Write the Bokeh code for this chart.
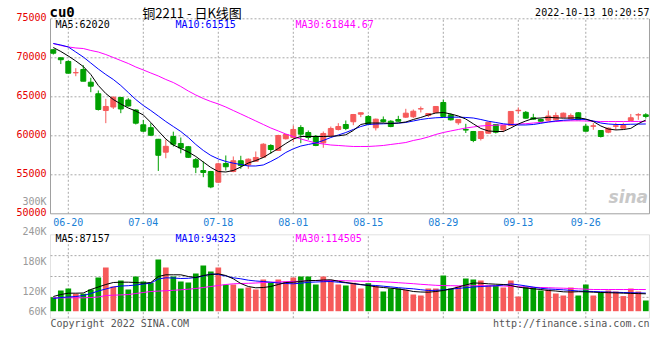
from bokeh.plotting import figure
from bokeh.models import Range1d, BoxAnnotation, Label, LabelSet, ColumnDataSource
from bokeh.core.properties import value
from bokeh.embed import file_html
from bokeh.resources import INLINE

# ---------------- data ----------------
DATES = ["06-16", "06-17", "06-20", "06-21", "06-22", "06-23", "06-24", "06-27", "06-28", "06-29",
         "06-30", "07-01", "07-04", "07-05", "07-06", "07-07", "07-08", "07-11", "07-12", "07-13",
         "07-14", "07-15", "07-18", "07-19", "07-20", "07-21", "07-22", "07-25", "07-26", "07-27",
         "07-28", "07-29", "08-01", "08-02", "08-03", "08-04", "08-05", "08-08", "08-09", "08-10",
         "08-11", "08-12", "08-15", "08-16", "08-17", "08-18", "08-19", "08-22", "08-23", "08-24",
         "08-25", "08-26", "08-29", "08-30", "08-31", "09-01", "09-02", "09-05", "09-06", "09-07",
         "09-08", "09-09", "09-13", "09-14", "09-15", "09-16", "09-19", "09-20", "09-21", "09-22",
         "09-23", "09-26", "09-27", "09-28", "09-29", "09-30", "10-10", "10-11", "10-12", "10-13"]

OPEN = [71030, 70000, 69530, 68080, 68500, 66870, 65390, 63240, 63690, 64910,
        64590, 63310, 61410, 61040, 59550, 57900, 59910, 59010, 58600, 56940,
        55550, 55420, 54050, 56450, 55420, 56800, 56280, 56740, 57260, 58760,
        58120, 59620, 59780, 61060, 60420, 59950, 59100, 60000, 60810, 61450,
        61800, 62770, 62480, 61030, 62050, 61870, 62090, 62390, 62440, 63440,
        62600, 62990, 64270, 62690, 61670, 60810, 60550, 59650, 60330, 61450,
        60770, 61320, 63210, 63010, 62310, 62090, 62000, 62050, 62390, 62180,
        62950, 61230, 61220, 60680, 60460, 61220, 60980, 61960, 62670, 62690]
HIGH = [71150, 70050, 69650, 68670, 69050, 67440, 65810, 64740, 65040, 65000,
        64820, 63410, 62030, 61620, 59600, 59530, 60530, 59780, 58700, 57150,
        56710, 55500, 56550, 57480, 57350, 57440, 57100, 57990, 59050, 58920,
        60130, 60200, 61320, 61360, 60680, 60100, 60550, 61190, 61620, 61960,
        62800, 62990, 62640, 62200, 62480, 62000, 62560, 63460, 63370, 63760,
        62920, 63820, 64650, 62860, 62150, 61540, 60620, 60620, 61770, 61510,
        61390, 63150, 63630, 63180, 62820, 62220, 63240, 62990, 62990, 62860,
        63050, 61540, 61640, 60740, 61060, 61670, 61670, 62800, 62900, 62900]
LOW = [70420, 69200, 68000, 67640, 67000, 65590, 63240, 61620, 63440, 62900,
       63760, 61450, 60500, 60000, 55490, 57120, 58630, 57760, 57150, 55210,
       54690, 53280, 53980, 55550, 55330, 55770, 55770, 56700, 57200, 57690,
       58100, 59530, 59180, 59050, 59490, 58670, 58460, 59950, 60680, 60720,
       61360, 62390, 61400, 60680, 61700, 61100, 61800, 62300, 62280, 62990,
       62410, 62920, 62410, 61960, 61410, 60360, 59180, 59400, 60300, 60300,
       60460, 61280, 62820, 62220, 62030, 61830, 61900, 61960, 62350, 62090,
       62030, 60550, 60770, 59780, 60330, 60740, 60940, 61900, 62050, 62220]
CLOSE = [70590, 69750, 68030, 68100, 67000, 66360, 63370, 63760, 64950, 63440,
         63820, 61620, 60590, 60070, 57500, 58650, 58920, 58440, 57240, 55980,
         55300, 53440, 56410, 56030, 56800, 56190, 57000, 57220, 58920, 58240,
         60040, 60170, 60810, 60210, 59780, 58760, 60300, 60940, 61190, 60940,
         62730, 62950, 61450, 62130, 61830, 61190, 61870, 62900, 63150, 63470,
         62860, 63760, 62480, 62050, 62090, 60730, 59400, 60550, 61740, 60460,
         61320, 63120, 63270, 62260, 62130, 61870, 62540, 62600, 62900, 62600,
         62050, 60590, 61280, 59910, 60980, 61280, 61320, 62310, 62710, 62480]

MA5 = [71320, 70810, 70230, 69590, 68880, 67860, 66450, 65420, 64650, 64080,
       63560, 63180, 62670, 61710, 60620, 59590, 58820, 58370, 57920, 57350,
       56640, 55940, 55420, 55360, 55550, 56000, 56510, 56830, 57220, 57800,
       58370, 59010, 59590, 59910, 59910, 59910, 59910, 59940, 60000, 60130,
       60680, 61450, 61640, 61640, 61640, 61580, 61640, 61770, 62090, 62350,
       62670, 62920, 62990, 62800, 62540, 62150, 61540, 60940, 60620, 60550,
       60550, 61000, 61510, 61900, 62220, 62280, 62370, 62310, 62260, 62280,
       62310, 62150, 61830, 61260, 60870, 60750, 60800, 60950, 61550, 62020]
MA10 = [71830, 71640, 71390, 70740, 70100, 69330, 68560, 67860, 67220, 66450,
        65550, 64650, 63890, 63240, 62540, 61830, 61190, 60550, 59780, 58890,
        58120, 57480, 57030, 56710, 56490, 56320, 56130, 56130, 56260, 56710,
        57220, 57860, 58330, 58690, 58890, 59080, 59400, 59780, 60100, 60420,
        60810, 61190, 61450, 61510, 61540, 61580, 61620, 61710, 61900, 62090,
        62220, 62310, 62350, 62390, 62390, 62350, 62280, 62090, 61870, 61710,
        61540, 61450, 61390, 61390, 61450, 61600, 61770, 61900, 61990, 62050,
        62120, 62090, 61900, 61640, 61510, 61450, 61450, 61480, 61500, 61515]
MA30 = [71830, 71580, 71390, 71260, 71190, 70940, 70740, 70420, 70040, 69650,
        69270, 68820, 68440, 68050, 67670, 67220, 66830, 66320, 65740, 65230,
        64780, 64400, 64080, 63690, 63240, 62800, 62350, 61900, 61450, 61000,
        60620, 60230, 59910, 59590, 59330, 59080, 58950, 58820, 58760, 58690,
        58630, 58630, 58630, 58690, 58760, 58890, 59010, 59140, 59400, 59590,
        59850, 60170, 60420, 60620, 60810, 61000, 61130, 61260, 61320, 61360,
        61410, 61450, 61510, 61550, 61640, 61710, 61770, 61830, 61900, 61920,
        61920, 61900, 61860, 61830, 61830, 61830, 61830, 61840, 61840, 61845]

VOLUME = [108000, 121400, 125400, 114800, 114800, 123400, 147400, 167400, 129400, 141400,
          123400, 149400, 139400, 136800, 183400, 167400, 149400, 139400, 137400, 155400,
          171400, 159400, 167400, 132800, 133400, 125400, 127400, 123400, 143400, 137400,
          143400, 139400, 147400, 149400, 149400, 133400, 149400, 142800, 133400, 131400,
          136800, 125400, 136000, 130800, 119400, 125400, 125400, 122800, 113400, 111400,
          125400, 125400, 151400, 125400, 129400, 145400, 143400, 141400, 131400, 131400,
          127400, 141400, 109400, 129400, 128000, 121400, 123400, 115400, 111400, 127400,
          111400, 133400, 111400, 117400, 121400, 119400, 110200, 125400, 119400, 101400]
VMA5 = [109400, 113400, 116000, 116000, 116400, 123400, 128400, 133400, 137400, 138000,
        138000, 137400, 136000, 137400, 149400, 152800, 152800, 152800, 149400, 147400,
        151400, 153400, 154800, 151400, 144800, 135400, 129400, 126800, 127400, 129400,
        133400, 137400, 138000, 139400, 141400, 141400, 142400, 142800, 140000, 137400,
        135400, 133400, 131400, 128800, 127400, 126000, 124400, 122400, 119400, 118400,
        118000, 119400, 121400, 124400, 128400, 132400, 136400, 136000, 134800, 134000,
        133400, 131400, 128000, 126400, 124800, 123400, 121400, 120400, 118800, 118400,
        119000, 118800, 118000, 117400, 117000, 116600, 116000, 115600, 115200, 114800]
VMA10 = [105400, 107400, 108400, 109400, 111400, 115400, 120400, 124400, 128400, 130400,
         131000, 132400, 134400, 136000, 144400, 146800, 146400, 145400, 145800, 147400,
         150400, 154400, 153400, 150400, 146800, 144800, 142000, 140400, 139400, 138000,
         136400, 135400, 134800, 136000, 137800, 138400, 139000, 139400, 138000, 136800,
         135000, 133000, 132000, 131400, 130000, 128600, 127000, 125800, 124800, 123000,
         121400, 121800, 122600, 124200, 125600, 127000, 128400, 129400, 130200, 130800,
         132400, 134600, 132800, 130600, 128200, 125800, 124400, 123600, 122800, 121600,
         120400, 119800, 119400, 118800, 118200, 117800, 117400, 117000, 116600, 116200]
VMA30 = [106800, 106800, 106800, 106800, 106800, 107400, 108400, 111400, 112000, 112600,
         113200, 115400, 117400, 119400, 120200, 121000, 121800, 122800, 124000, 125400,
         127400, 129400, 131400, 133400, 134800, 135400, 135800, 136400, 137400, 138000,
         138400, 139000, 139400, 140000, 140800, 141400, 141400, 141400, 141200, 140800,
         140400, 140000, 139800, 139400, 138800, 138000, 137000, 136000, 135000, 133800,
         132800, 131800, 131200, 131000, 130800, 130800, 130800, 130800, 130800, 130800,
         130400, 129800, 129200, 128400, 127800, 127400, 127000, 126400, 126000, 125400,
         124800, 124000, 123400, 123400, 123400, 123400, 123400, 123400, 123400, 123400]

TICK_DATES = ["06-20", "07-04", "07-18", "08-01", "08-15", "08-29", "09-13", "09-26"]
PRICE_TICKS = [50000, 55000, 60000, 65000, 70000, 75000]
VOL_TICKS = [300000, 240000, 180000, 120000, 60000]
VOL_TICK_LABELS = ["300K", "240K", "180K", "120K", "60K"]

TITLE_CODE = "cu0"
TITLE_TEXT = "铜2211 - 日K线图"
TIMESTAMP = "2022-10-13 10:20:57"
PRICE_LEGEND = ["MA5:62020", "MA10:61515", "MA30:61844.67"]
VOL_LEGEND = ["MA5:87157", "MA10:94323", "MA30:114505"]
COPYRIGHT = "Copyright 2022 SINA.COM"
URL = "http://finance.sina.com.cn"

# ---------------- layout / style ----------------
UP, DOWN = "#f65a5a", "#00a000"
GRID = "#a8a8a8"
BORDER = "#a0a0a0"
MONO = "DejaVu Sans Mono"
LINE_COLORS = ["black", "#0000ff", "#ff00ff"]

W, H = 656, 340
X_VIEW = (-7.04, 80.427)            # candle slots across the whole canvas
PANEL_X = (-0.373, 79.493)          # left / right edges of both panels
PRICE_MIN, PRICE_MAX = 50000, 75000
PRICE_VIEW = (33756, 77346)         # price scale over the whole canvas
VOL_VIEW = (21400, 701400)          # volume scale over the whole canvas
VOL_PANEL = (66000, 232800)         # bottom / top of the volume panel
VOL_BASE = 80000                    # floor of the volume bars

N = len(DATES)
idx = list(range(N))
colors = [UP if c >= o else DOWN for o, c in zip(OPEN, CLOSE)]
src = ColumnDataSource(dict(
    x=idx, high=HIGH, low=LOW,
    top=[max(o, c) for o, c in zip(OPEN, CLOSE)],
    bottom=[min(o, c) for o, c in zip(OPEN, CLOSE)],
    color=colors, vol=VOLUME))

p = figure(width=W, height=H, title=None,
           x_range=Range1d(*X_VIEW), y_range=Range1d(*PRICE_VIEW),
           x_axis_type=None, y_axis_type=None,
           output_backend="svg", toolbar_location=None,
           min_border=0, min_border_left=0, min_border_right=0,
           min_border_top=0, min_border_bottom=0)
p.extra_y_ranges = {"vol": Range1d(*VOL_VIEW)}
p.outline_line_color = None
p.background_fill_color = "white"
p.border_fill_color = "white"
p.xgrid.visible = False
p.ygrid.visible = False

L, R = PANEL_X
tick_idx = [DATES.index(d) for d in TICK_DATES]
nt = len(tick_idx)

# ---- grid lines (dotted) ----
hp = PRICE_TICKS[1:]                       # 55000 .. 75000 (75000 = dotted top edge)
p.segment(x0=[L] * len(hp), x1=[R] * len(hp), y0=hp, y1=hp,
          line_color=GRID, line_dash="2 2", line_width=1)
p.segment(x0=tick_idx, x1=tick_idx, y0=[PRICE_MIN] * nt, y1=[PRICE_MAX] * nt,
          line_color=GRID, line_dash="2 2", line_width=1)
vq = (VOL_PANEL[1] - VOL_PANEL[0]) / 4
hv = [VOL_PANEL[0] + k * vq for k in (1, 2, 3)]
p.segment(x0=[L] * 3, x1=[R] * 3, y0=hv, y1=hv, line_color=GRID, line_dash="2 2",
          line_width=1, y_range_name="vol")
p.segment(x0=tick_idx, x1=tick_idx, y0=[VOL_PANEL[0]] * nt, y1=[VOL_PANEL[1]] * nt,
          line_color=GRID, line_dash="2 2", line_width=1, y_range_name="vol")

# ---- panel borders ----
p.segment(x0=[L, L, R], x1=[L, R, R], y0=[PRICE_MAX, PRICE_MIN, PRICE_MIN],
          y1=[PRICE_MIN, PRICE_MIN, PRICE_MAX], line_color=BORDER, line_width=1)
p.add_layout(BoxAnnotation(left=L, right=R, bottom=VOL_PANEL[0], top=VOL_PANEL[1],
                           y_range_name="vol", fill_alpha=0, line_color=BORDER,
                           line_width=1))

# ---- candles ----
p.segment(x0="x", x1="x", y0="low", y1="high", line_color="color", line_width=1, source=src)
p.vbar(x="x", width=0.66, top="top", bottom="bottom", fill_color="color",
       line_color="color", line_width=1, source=src)
for ma, c in zip([MA30, MA10, MA5], LINE_COLORS[::-1]):
    p.line(idx, ma, line_color=c, line_width=1)

# ---- volume ----
p.vbar(x="x", width=0.76, top="vol", bottom=VOL_BASE, fill_color="color",
       line_color=None, source=src, y_range_name="vol")
for ma, c in zip([VMA30, VMA10, VMA5], LINE_COLORS[::-1]):
    p.line(idx, ma, line_color=c, line_width=1, y_range_name="vol")

# ---- tick labels ----
TXT = dict(text_baseline="middle", text_font=value(MONO), text_font_size=value("10px"))
p.add_layout(LabelSet(x="x", y="y", text="t", text_align="center", text_color="#1a7fd6",
                      source=ColumnDataSource(dict(x=tick_idx, y=[48923] * nt,
                                                   t=TICK_DATES)), **TXT))
p.add_layout(LabelSet(x=-0.907, y="y", text="t", text_align="right", text_color="#e60000",
                      y_offset=2,
                      source=ColumnDataSource(dict(y=PRICE_TICKS,
                                                   t=[str(v) for v in PRICE_TICKS])), **TXT))
p.add_layout(LabelSet(x=-0.907, y="y", text="t", text_align="right", text_color="#9a9a9a",
                      y_range_name="vol",
                      source=ColumnDataSource(dict(
                          y=[max(v, VOL_BASE) for v in VOL_TICKS], t=VOL_TICK_LABELS)),
                      **TXT))


def lab(x, y, text, color="black", align="left", size="10px", font=MONO,
        style="normal", rng="default"):
    p.add_layout(Label(x=x, y=y, text=text, text_color=color, text_align=align,
                       text_baseline="middle", text_font=font, text_font_size=size,
                       text_font_style=style, y_range_name=rng))


# header
lab(-0.507, 75808, TITLE_CODE, size="14px", style="bold")
lab(11.853, 75808, TITLE_TEXT, size="13px", font="Noto Sans CJK SC")
lab(79.493, 75808, TIMESTAMP, align="right")

# legends
for xx, t, c in zip([0.293, 16.293, 32.293], PRICE_LEGEND, LINE_COLORS):
    lab(xx, 74308, t, color=c)
for xx, t, c in zip([0.293, 16.293, 32.293], VOL_LEGEND, LINE_COLORS):
    lab(xx, 225400, t, color=c, rng="vol")

# footer
lab(-0.373, 54800, COPYRIGHT, color="#555555", rng="vol")
lab(79.493, 54800, URL, color="#555555", align="right", rng="vol")

# watermark
lab(79.3, 52090, "sina", color="#c8c8c8", align="right", size="17px",
    font="DejaVu Sans", style="bold italic")

open("out.html", "w").write(file_html(p, INLINE))
